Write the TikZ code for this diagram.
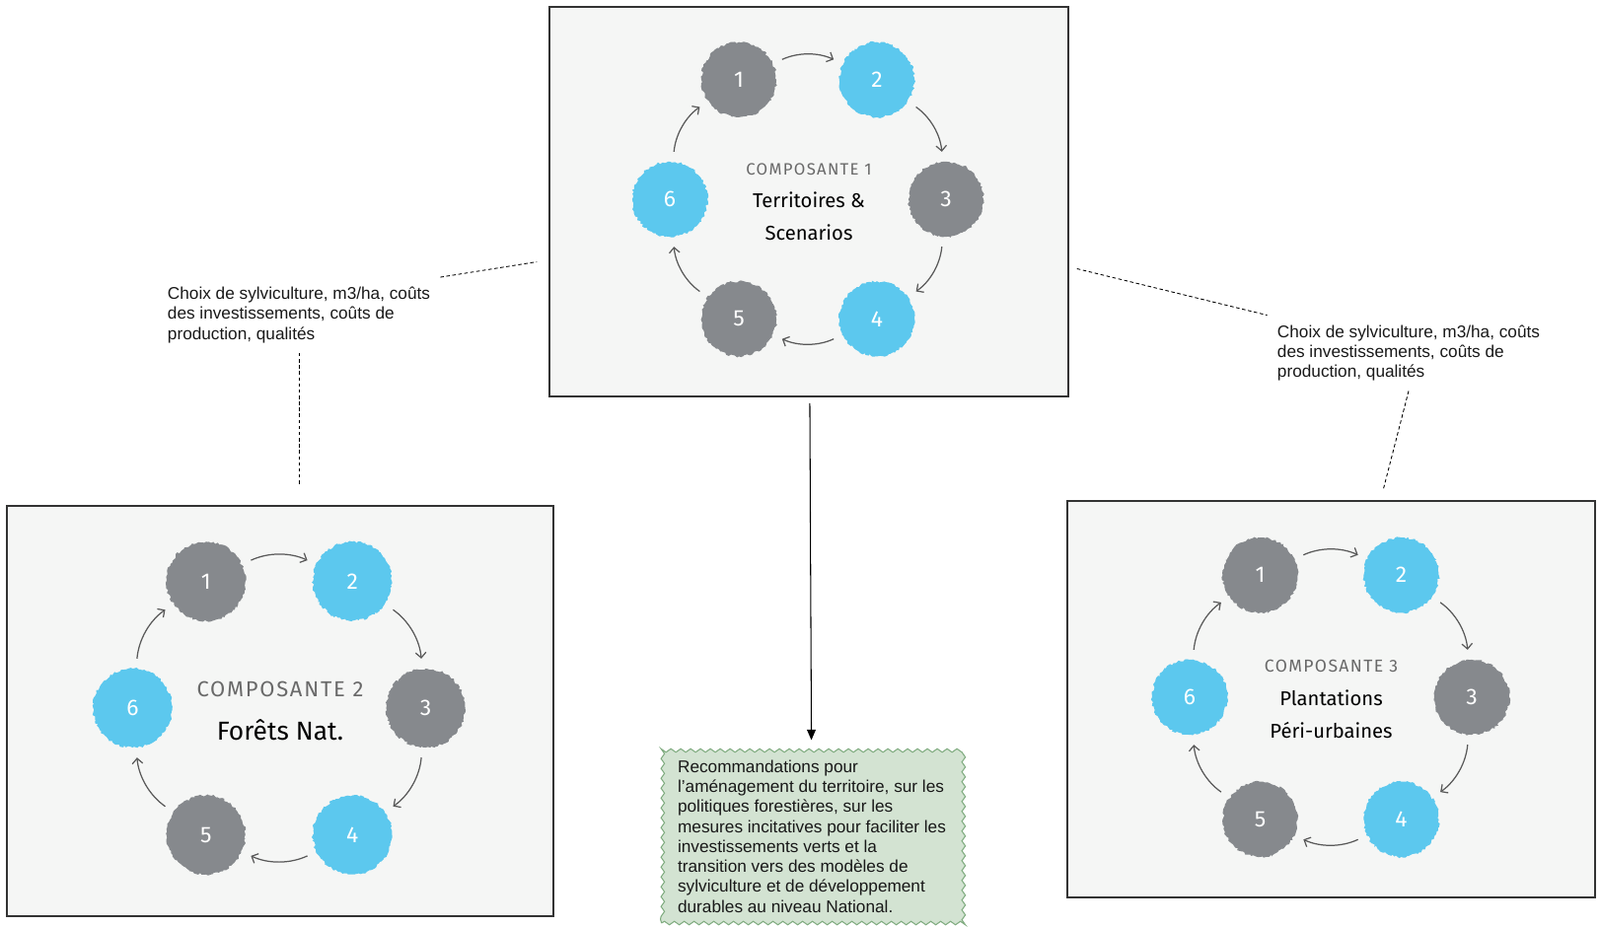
\documentclass[tikz,border=0pt]{standalone}
\usepackage{fontspec}
\setmainfont{Liberation Sans}
\newfontfamily\handfont{Fira Sans}
\newfontfamily\capsfont[LetterSpace=8]{Fira Sans}
\usepackage{xcolor}
\usepackage{tikz}
\usetikzlibrary{arrows.meta,positioning,calc,decorations.pathmorphing}

\definecolor{blobgray}{RGB}{134,137,141}
\definecolor{blobblue}{RGB}{92,200,238}
\definecolor{panelbg}{RGB}{245,246,245}
\definecolor{recobg}{RGB}{211,227,210}
\definecolor{recoline}{RGB}{128,172,128}
\definecolor{titlegray}{RGB}{105,105,105}

\begin{document}
\begin{tikzpicture}[
  panel/.style={draw=black!80, line width=0.9pt, fill=panelbg, inner sep=0pt},
  blob/.style={circle, inner sep=0pt, text=white, font=\handfont\fontsize{13}{13}\selectfont,
    decorate, decoration={random steps, segment length=1.2pt, amplitude=0.7pt}},
  cyc/.style={draw=black!65, line width=0.7pt, -{Straight Barb[length=3pt,width=6pt]},
    bend left=25, shorten <=0.2cm, shorten >=0.2cm},
  note/.style={align=left, inner sep=0.2cm, font=\fontsize{9.8}{11.4}\selectfont, text=black!90},
  link/.style={draw, dash pattern=on 2pt off 1.5pt, line width=0.5pt},
  reco/.style={draw=recoline, fill=recobg, line width=0.6pt,
    decorate, decoration={snake, segment length=0.2cm, amplitude=0.035cm},
    minimum width=6.1cm, minimum height=3.52cm, align=left,
    font=\fontsize{9.8}{11.55}\selectfont, text=black!90},
  ttl/.style={align=center, text=black}
]
\useasboundingbox (0,0) rectangle (32.44,-18.78);

% the three components
\node [panel, minimum width=10.52cm, minimum height=7.90cm] (top) at (16.40,-4.09) {};
\node [panel, minimum width=11.08cm, minimum height=8.32cm] (bl) at (5.68,-14.42) {};
\node [panel, minimum width=10.70cm, minimum height=8.04cm] (br) at (26.99,-14.18) {};

% six steps on each cycle
\foreach \p/\cx/\cy/\r/\s in {t/16.38/-4.04/2.80/1.52, l/5.66/-14.36/2.97/1.60, r/26.98/-14.14/2.86/1.52} {
  \foreach \n/\a/\c in {1/120/blobgray, 2/60/blobblue, 3/0/blobgray, 4/-60/blobblue, 5/-120/blobgray, 6/180/blobblue} {
    \node [blob, fill=\c, minimum size=\s cm] (\p\n) at ($(\cx,\cy)+(\a:\r)$) {\n};
  }
  \foreach \n/\m in {1/2,2/3,3/4,4/5,5/6,6/1} {
    \draw [cyc] (\p\n) to (\p\m);
  }
}

\node [ttl, font=\handfont\fontsize{11.5}{18.8}\selectfont] (ttop) at (top)
  {\textcolor{titlegray}{\capsfont\fontsize{9.5}{18.8}\selectfont COMPOSANTE 1}\\Territoires \&\\Scenarios};
\node [ttl, font=\handfont\fontsize{15}{25}\selectfont] (tbl) at (bl)
  {\textcolor{titlegray}{\capsfont\fontsize{12.5}{25}\selectfont COMPOSANTE 2}\\Forêts Nat.};
\node [ttl, font=\handfont\fontsize{11.5}{19}\selectfont] (tbr) at (br)
  {\textcolor{titlegray}{\capsfont\fontsize{10}{19}\selectfont COMPOSANTE 3}\\Plantations\\Péri-urbaines};

% data exchanged
\node [note] (lblL) at (6.06,-6.39) {Choix de sylviculture, m3/ha, coûts\\des investissements, coûts de\\production, qualités};
\node [note] (lblR) at (28.56,-7.16) {Choix de sylviculture, m3/ha, coûts\\des investissements, coûts de\\production, qualités};

\draw [link] (lblL.north east) -- ([shift={(-0.24,-1.22)}]top.west);
\draw [link, shorten >=0.42cm] (lblL.south) -- (lblL.south |- bl.north);
\draw [link] ([shift={(0.16,-1.36)}]top.east) -- (lblR.north west);
\draw [link, shorten >=0.22cm] (lblR.south) -- ([xshift=1cm]br.north);

% recommendations
\node [reco] (rec) at (16.46,-16.96) {Recommandations pour\\l'aménagement du territoire, sur les\\politiques forestières, sur les\\mesures incitatives pour faciliter les\\investissements verts et la\\transition vers des modèles de\\sylviculture et de développement\\durables au niveau National.};

\draw [-{Triangle[length=6pt,width=5pt]}, line width=0.6pt, shorten <=0.12cm, shorten >=0.18cm] (top) -- (rec);
\end{tikzpicture}
\end{document}
